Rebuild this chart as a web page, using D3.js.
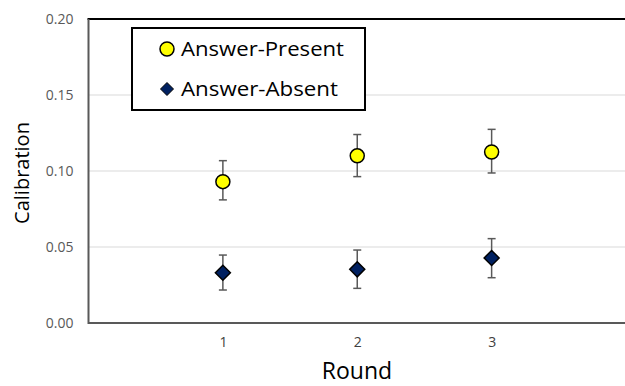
<!DOCTYPE html>
<html>
<head>
<meta charset="utf-8">
<script src="https://d3js.org/d3.v7.min.js"></script>
<style>
  body { margin: 0; background: #fff; }
  svg { display: block; }
  text { font-family: "Open Sans", "Noto Sans", sans-serif; }
</style>
</head>
<body>
<svg id="chart"></svg>
<script>
// rounds on the x axis
var rounds = [1, 2, 3];
// calibration means and error bar ends
var presentMean = [0.093, 0.110, 0.1125];
var presentLow  = [0.081, 0.0963, 0.0987];
var presentHigh = [0.1068, 0.124, 0.1274];
var absentMean = [0.0331, 0.0353, 0.0428];
var absentLow  = [0.0217, 0.0228, 0.0298];
var absentHigh = [0.0447, 0.048, 0.0555];
var yTicks = [0, 0.05, 0.10, 0.15, 0.20];

var W = 625, H = 386;
var svg = d3.select("#chart").attr("width", W).attr("height", H);

var x = d3.scaleLinear().domain([0, 4]).range([88.5, 626]);
var y = d3.scaleLinear().domain([0, 0.20]).range([323, 19]);

// grid lines
svg.append("g").selectAll("line")
  .data(yTicks.filter(function(d) { return d > 0 && d < 0.2; }))
  .enter().append("line")
  .attr("x1", x(0)).attr("x2", W)
  .attr("y1", function(d) { return y(d); })
  .attr("y2", function(d) { return y(d); })
  .attr("stroke", "#d9d9d9").attr("stroke-width", 1);

// frame: black top, grey left and bottom
svg.append("line").attr("x1", x(0) - 1).attr("x2", W).attr("y1", y(0.2)).attr("y2", y(0.2))
  .attr("stroke", "#000").attr("stroke-width", 2);
svg.append("line").attr("x1", x(0)).attr("x2", x(0)).attr("y1", y(0.2)).attr("y2", y(0) + 1)
  .attr("stroke", "#595959").attr("stroke-width", 2);
svg.append("line").attr("x1", x(0)).attr("x2", W).attr("y1", y(0)).attr("y2", y(0))
  .attr("stroke", "#595959").attr("stroke-width", 2);

// y axis labels
var yAxis = d3.axisLeft(y).tickValues(yTicks).tickSize(0).tickPadding(15)
  .tickFormat(d3.format(".2f"));
var gy = svg.append("g").attr("transform", "translate(" + x(0) + ",0)").call(yAxis);
gy.select(".domain").remove();
gy.selectAll("text").attr("font-size", 14).attr("fill", "#595959")
  .style("font-family", "Open Sans, sans-serif");

// x axis labels
var xAxis = d3.axisBottom(x).tickValues(rounds).tickSize(0).tickPadding(14)
  .tickFormat(d3.format("d"));
var gx = svg.append("g").attr("transform", "translate(0," + y(0) + ")").call(xAxis);
gx.select(".domain").remove();
gx.selectAll("text").attr("font-size", 14).attr("fill", "#404040")
  .style("font-family", "Open Sans, sans-serif");

// axis titles
svg.append("text").attr("x", 357).attr("y", 379).attr("text-anchor", "middle")
  .attr("font-size", 23).attr("fill", "#000").text("Round");
svg.append("text")
  .attr("transform", "translate(29,173) rotate(-90)")
  .attr("text-anchor", "middle").attr("font-size", 20).attr("fill", "#000")
  .text("Calibration");

function errorBars(means, lows, highs) {
  var g = svg.append("g");
  rounds.forEach(function(r, i) {
    var cx = x(r);
    g.append("line").attr("x1", cx).attr("x2", cx)
      .attr("y1", y(lows[i])).attr("y2", y(highs[i]))
      .attr("stroke", "#595959").attr("stroke-width", 1.5);
    [lows[i], highs[i]].forEach(function(v) {
      g.append("line").attr("x1", cx - 4).attr("x2", cx + 4)
        .attr("y1", y(v)).attr("y2", y(v))
        .attr("stroke", "#595959").attr("stroke-width", 1.5);
    });
  });
}
errorBars(presentMean, presentLow, presentHigh);
errorBars(absentMean, absentLow, absentHigh);

var circle = d3.symbol().type(d3.symbolCircle).size(Math.PI * 7 * 7);
var diamond = "M0,-7.5L7.5,0L0,7.5L-7.5,0Z";

svg.append("g").selectAll("path")
  .data(rounds).enter().append("path")
  .attr("d", circle)
  .attr("transform", function(d, i) { return "translate(" + x(d) + "," + y(presentMean[i]) + ")"; })
  .attr("fill", "#ffff00").attr("stroke", "#000").attr("stroke-width", 1.5);

svg.append("g").selectAll("path")
  .data(rounds).enter().append("path")
  .attr("d", diamond)
  .attr("transform", function(d, i) { return "translate(" + x(d) + "," + y(absentMean[i]) + ")"; })
  .attr("fill", "#002060").attr("stroke", "#000").attr("stroke-width", 1.5);

// legend
var lg = svg.append("g");
lg.append("rect").attr("x", 132).attr("y", 28).attr("width", 233).attr("height", 82)
  .attr("fill", "#fff").attr("stroke", "#000").attr("stroke-width", 2);
lg.append("path").attr("d", circle).attr("transform", "translate(167,49)")
  .attr("fill", "#ffff00").attr("stroke", "#000").attr("stroke-width", 1.5);
lg.append("path").attr("d", "M0,-6.5L6.5,0L0,6.5L-6.5,0Z").attr("transform", "translate(167,89)")
  .attr("fill", "#002060").attr("stroke", "#000").attr("stroke-width", 1);
lg.append("text").attr("x", 181).attr("y", 56).attr("font-size", 20)
  .attr("textLength", 163).attr("lengthAdjust", "spacingAndGlyphs").text("Answer-Present");
lg.append("text").attr("x", 181).attr("y", 96).attr("font-size", 20)
  .attr("textLength", 157).attr("lengthAdjust", "spacingAndGlyphs").text("Answer-Absent");
</script>
</body>
</html>
